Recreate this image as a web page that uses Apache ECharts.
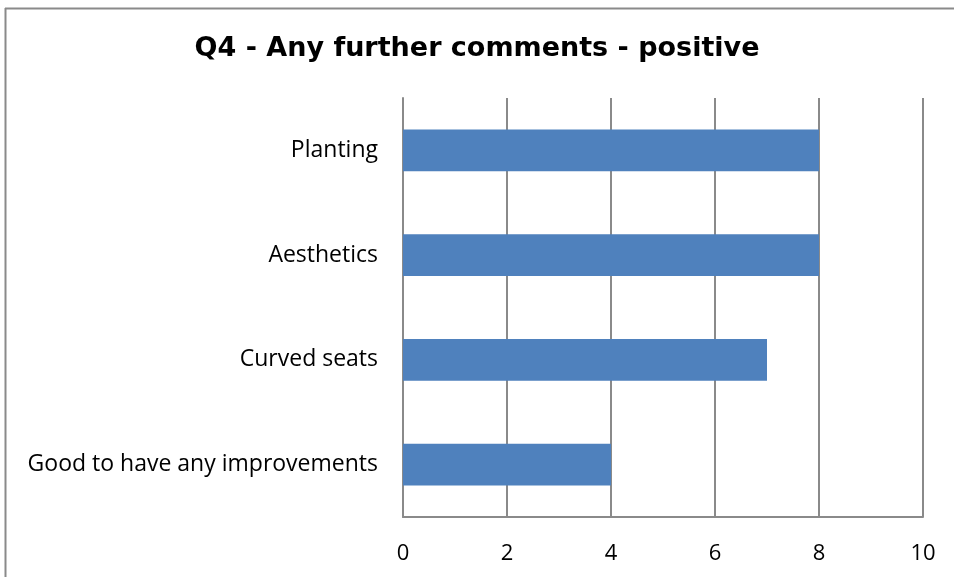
<!DOCTYPE html>
<html>
<head>
<meta charset="utf-8">
<script src="https://cdn.jsdelivr.net/npm/echarts@6/dist/echarts.min.js"></script>
<style>
  html, body { margin: 0; padding: 0; background: #fff; }
  #chart { width: 954px; height: 577px; }
</style>
</head>
<body>
<div id="chart"></div>
<script>
// Categories listed bottom-to-top as drawn on the category axis
const categories = ['Good to have any improvements', 'Curved seats', 'Aesthetics', 'Planting'];
const counts = [4, 7, 8, 8];
const valueTicks = [0, 2, 4, 6, 8, 10];

const chart = echarts.init(document.getElementById('chart'), null, { renderer: 'canvas' });

const lineGrey = '#8a8a8a';

chart.setOption({
  backgroundColor: '#ffffff',
  animation: false,
  title: {
    text: 'Q4 - Any further comments - positive',
    left: 'center',
    top: 30,
    textStyle: {
      fontFamily: 'DejaVu Sans, sans-serif',
      fontWeight: 'bold',
      fontSize: 27,
      color: '#000'
    }
  },
  // chart frame: only its left and top edges fall inside the page
  graphic: [
    {
      type: 'line',
      shape: { x1: 5.5, y1: 8, x2: 5.5, y2: 577 },
      style: { stroke: lineGrey, lineWidth: 2 },
      silent: true
    },
    {
      type: 'line',
      shape: { x1: 5, y1: 8.5, x2: 954, y2: 8.5 },
      style: { stroke: lineGrey, lineWidth: 2 },
      silent: true
    }
  ],
  grid: { left: 403, right: 31, top: 98, bottom: 60, containLabel: false },
  xAxis: {
    type: 'value',
    min: valueTicks[0],
    max: valueTicks[valueTicks.length - 1],
    interval: 2,
    axisLine: { show: true, lineStyle: { color: lineGrey, width: 2 } },
    axisTick: { show: false },
    splitLine: { show: true, lineStyle: { color: lineGrey, width: 2 } },
    axisLabel: {
      margin: 26,
      fontFamily: 'Open Sans, sans-serif',
      fontSize: 22,
      color: '#000'
    }
  },
  yAxis: {
    type: 'category',
    data: categories,
    axisLine: { show: true, lineStyle: { color: lineGrey, width: 2 } },
    axisTick: { show: false },
    axisLabel: {
      margin: 25,
      fontFamily: 'Open Sans, sans-serif',
      fontSize: 23,
      color: '#000'
    }
  },
  series: [{
    type: 'bar',
    data: counts,
    barCategoryGap: '60%',
    itemStyle: { color: '#4F81BD' }
  }]
});
</script>
</body>
</html>
